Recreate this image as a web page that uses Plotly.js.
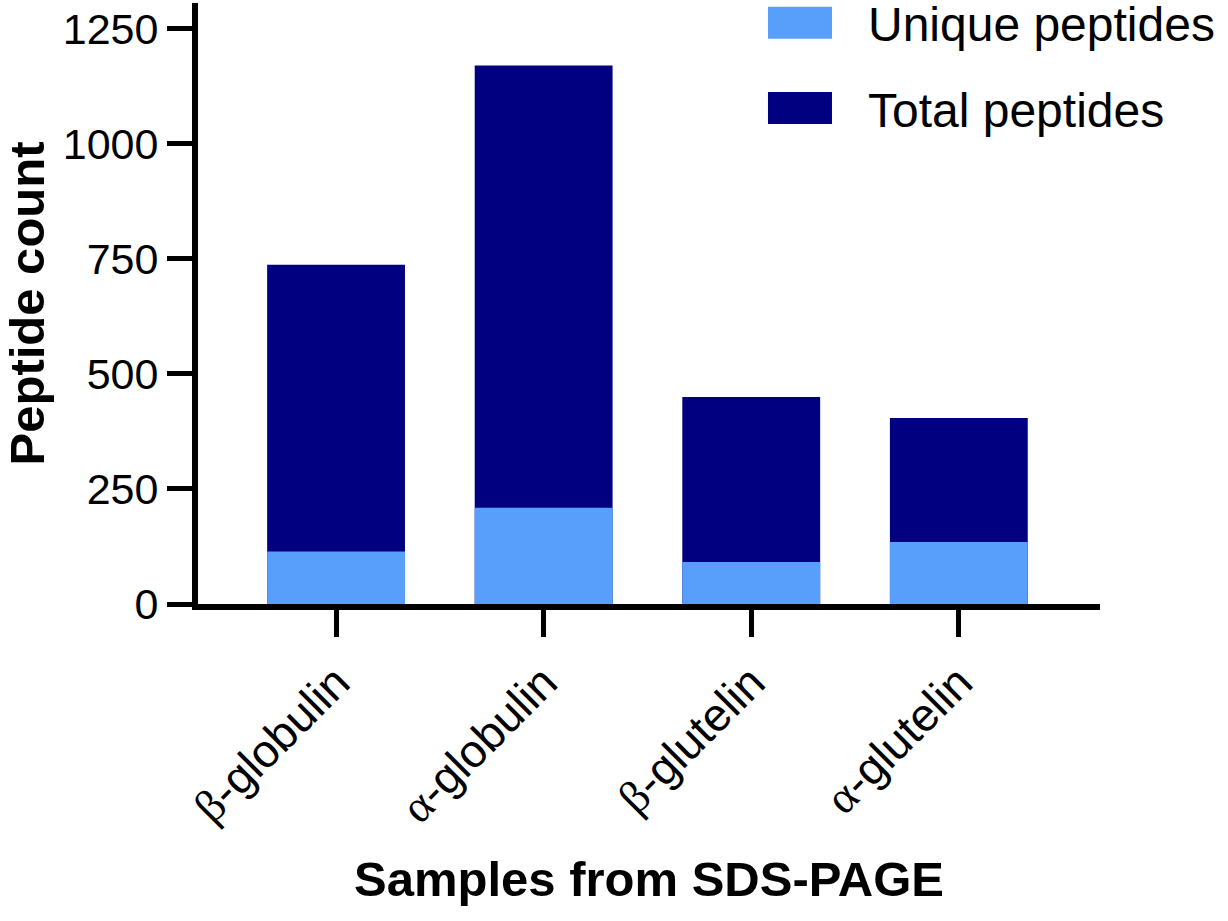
<!DOCTYPE html>
<html>
<head>
<meta charset="utf-8">
<script src="https://cdn.plot.ly/plotly-3.0.1.min.js"></script>
<style>
  html, body { margin: 0; padding: 0; background: #fff; }
  #chart { width: 1228px; height: 921px; }
</style>
</head>
<body>
<div id="chart"></div>
<script>
    'use strict';

    // values
    var samples = ['β-globulin', 'α-globulin', 'β-glutelin', 'α-glutelin'];
    var totalPeptides = [737, 1170, 450, 404];
    var uniquePeptides = [114, 209, 91, 135];

    // greek letter drawn in a serif face, like the original
    var tickLabels = samples.map(function (s) {
        return '<span style="font-family:\'Liberation Serif\'">' + s.charAt(0) + '</span>' + s.slice(1);
    });

    var font = 'Liberation Sans, Arial, sans-serif';

    var totalTrace = {
        x: samples,
        y: totalPeptides,
        type: 'bar',
        name: 'Total peptides',
        legendgroup: 'total',
        legendrank: 2,
        width: 0.664,
        marker: { color: '#000080', line: { width: 0 } },
        hoverinfo: 'y'
    };

    var uniqueTrace = {
        x: samples,
        y: uniquePeptides,
        type: 'bar',
        name: 'Unique peptides',
        legendgroup: 'unique',
        legendrank: 1,
        width: 0.664,
        marker: { color: '#579FFB', line: { width: 0 } },
        hoverinfo: 'y'
    };

    var layout = {
        width: 1228,
        height: 921,
        margin: { l: 198, r: 128, t: 3, b: 317, autoexpand: false },
        paper_bgcolor: '#fff',
        plot_bgcolor: '#fff',
        barmode: 'overlay',
        font: { family: font, color: '#000' },
        showlegend: true,
        legend: {
            x: 0.592,
            y: 1.03,
            xanchor: 'left',
            yanchor: 'top',
            traceorder: 'grouped',
            tracegroupgap: 20,
            itemwidth: 126,
            font: { size: 48, family: font },
            bgcolor: 'rgba(0,0,0,0)'
        },
        xaxis: {
            type: 'category',
            range: [-0.665, 3.68],
            tickmode: 'array',
            tickvals: samples,
            ticktext: tickLabels,
            tickangle: -45,
            ticks: 'outside',
            ticklen: 27,
            tickwidth: 5,
            tickcolor: '#000',
            tickfont: { size: 46, family: font },
            showline: true,
            linewidth: 6,
            linecolor: '#000',
            showgrid: false,
            zeroline: false,
            fixedrange: true,
            title: {
                text: '<b>Samples from SDS-PAGE</b>',
                font: { size: 49, family: font },
                standoff: 32
            }
        },
        yaxis: {
            range: [0, 1306],
            tickvals: [0, 250, 500, 750, 1000, 1250],
            ticks: 'outside',
            ticklen: 25,
            tickwidth: 5,
            tickcolor: '#000',
            tickfont: { size: 43, family: font },
            showline: true,
            linewidth: 6,
            linecolor: '#000',
            showgrid: false,
            zeroline: false,
            fixedrange: true,
            title: {
                text: '<b>Peptide count</b>',
                font: { size: 49, family: font },
                standoff: 18
            }
        }
    };

    Plotly.newPlot('chart', [totalTrace, uniqueTrace], layout, { displayModeBar: false, staticPlot: true })
        .then(function (gd) {
            // the original legend uses wide rectangular swatches
            var paths = gd.querySelectorAll('.legend .legendpoints path');
            paths.forEach(function (p) {
                p.setAttribute('d', 'M-32,-16H32V16H-32Z');
            });
        });
</script>
</body>
</html>
